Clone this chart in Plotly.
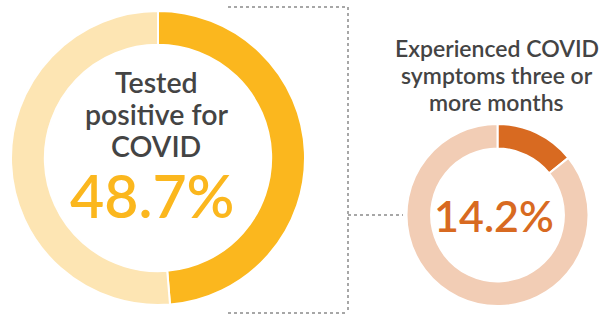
import plotly.graph_objects as go

# Data
tested_labels = ["Tested positive", "Not tested positive"]
tested_values = [48.7, 51.3]
long_labels = ["Symptoms 3+ months", "Other"]
long_values = [14.2, 85.8]

big_title = ["Tested", "positive for", "COVID"]
big_value_text = "48.7%"
small_title = ["Experienced COVID", "symptoms three or", "more months"]
small_value_text = "14.2%"

W, H = 605, 316
FONT = "Lato"

def px(x):
    return x / W

def py(y):
    return 1 - y / H

fig = go.Figure()
fig.add_trace(go.Pie(
    labels=tested_labels, values=tested_values, hole=0.77, sort=False,
    direction="clockwise", rotation=0,
    marker=dict(colors=["#FBB71E", "#FDE5B3"], line=dict(color="white", width=2)),
    textinfo="none", hoverinfo="label+value",
    domain=dict(x=[px(11), px(305)], y=[py(305), py(11)]),
))
fig.add_trace(go.Pie(
    labels=long_labels, values=long_values, hole=0.73, sort=False,
    direction="clockwise", rotation=0,
    marker=dict(colors=["#D86A21", "#F2CDB5"], line=dict(color="white", width=2)),
    textinfo="none", hoverinfo="label+value",
    domain=dict(x=[px(406.5), px(588.5)], y=[py(306), py(124)]),
))

annotations = []
for i, t in enumerate(big_title):
    annotations.append(dict(x=px(156), y=py(82 + 32 * i), xref="paper", yref="paper",
                            text=t, showarrow=False, xanchor="center", yanchor="middle",
                            font=dict(family=FONT, size=28.5, color="#444444", weight=600)))
annotations.append(dict(x=px(152), y=py(195), xref="paper", yref="paper",
                        text=big_value_text, showarrow=False, xanchor="center", yanchor="middle",
                        font=dict(family=FONT, size=59, color="#FBB71E", weight=600)))
for i, t in enumerate(small_title):
    annotations.append(dict(x=px(497), y=py(48 + 27 * i), xref="paper", yref="paper",
                            text=t, showarrow=False, xanchor="center", yanchor="middle",
                            font=dict(family=FONT, size=23, color="#444444", weight=600)))
annotations.append(dict(x=px(494), y=py(215), xref="paper", yref="paper",
                        text=small_value_text, showarrow=False, xanchor="center", yanchor="middle",
                        font=dict(family=FONT, size=43, color="#D86A21", weight=600)))

line_style = dict(color="#8A8A8A", width=1.5, dash="dot")
shapes = [
    dict(type="line", xref="paper", yref="paper", x0=px(228), x1=px(348), y0=py(7), y1=py(7), line=line_style),
    dict(type="line", xref="paper", yref="paper", x0=px(228), x1=px(348), y0=py(313), y1=py(313), line=line_style),
    dict(type="line", xref="paper", yref="paper", x0=px(348), x1=px(348), y0=py(7), y1=py(313), line=line_style),
    dict(type="line", xref="paper", yref="paper", x0=px(348), x1=px(403), y0=py(215), y1=py(215), line=line_style),
]

fig.update_layout(
    width=W, height=H, margin=dict(l=0, r=0, t=0, b=0),
    paper_bgcolor="white", plot_bgcolor="white", showlegend=False,
    annotations=annotations, shapes=shapes,
)
fig.write_html("out.html", config={"displayModeBar": False},
               post_script="document.body.style.margin='0';")
